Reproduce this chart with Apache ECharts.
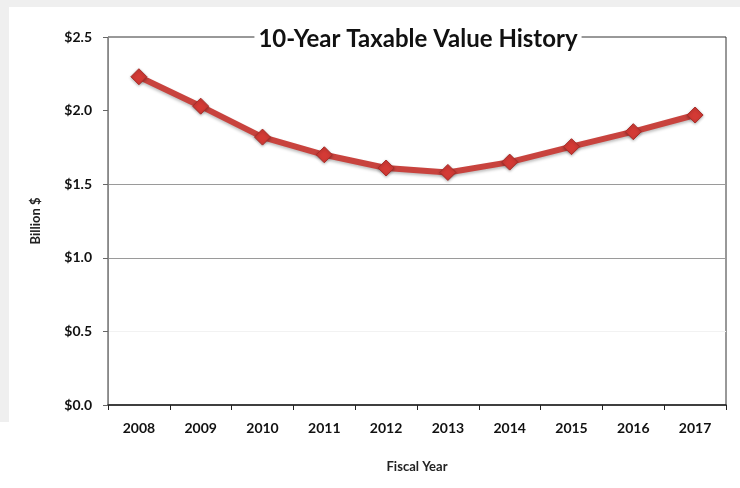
<!DOCTYPE html>
<html>
<head>
<meta charset="utf-8">
<script src="https://cdn.jsdelivr.net/npm/echarts@6/dist/echarts.min.js"></script>
<style>
  html, body { margin: 0; padding: 0; background: #ffffff; }
  #chart { width: 740px; height: 488px; }
</style>
</head>
<body>
<div id="chart"></div>
<script>
// Fiscal years and taxable value (billions of dollars)
const years = ['2008', '2009', '2010', '2011', '2012', '2013', '2014', '2015', '2016', '2017'];
const taxableValue = [2.23, 2.03, 1.82, 1.70, 1.61, 1.58, 1.65, 1.755, 1.857, 1.97];

// Value-axis ticks
const yMin = 0;
const yMax = 2.5;
const yStep = 0.5;

const labelFont = 'Lato, "Open Sans", "DejaVu Sans", sans-serif';

const chart = echarts.init(document.getElementById('chart'), null, { renderer: 'canvas' });

chart.setOption({
  backgroundColor: '#ffffff',
  animation: false,
  graphic: [
    // light frame along the top and left edges
    { type: 'rect', shape: { x: 0, y: 0, width: 740, height: 7 }, style: { fill: '#efefef' }, z: -10 },
    { type: 'rect', shape: { x: 0, y: 0, width: 9, height: 422 }, style: { fill: '#efefef' }, z: -10 }
  ],
  title: {
    text: '10-Year Taxable Value History',
    left: 414,
    textAlign: 'center',
    top: 27,
    padding: [0, 4],
    backgroundColor: '#ffffff',
    textStyle: {
      fontFamily: labelFont,
      fontWeight: 'bold',
      fontSize: 24,
      color: '#111111'
    },
    z: 10
  },
  grid: {
    left: 108,
    right: 14,
    top: 37,
    bottom: 83,
    show: true,
    borderColor: '#333333',
    borderWidth: 1,
    backgroundColor: '#ffffff'
  },
  xAxis: {
    type: 'category',
    data: years,
    boundaryGap: true,
    name: 'Fiscal Year',
    nameLocation: 'middle',
    nameGap: 55,
    nameTextStyle: {
      fontFamily: labelFont,
      fontWeight: 'bold',
      fontSize: 13,
      color: '#222222'
    },
    axisLine: { show: true, lineStyle: { color: '#222222', width: 1.5 } },
    axisTick: { show: true, length: 5, lineStyle: { color: '#222222' } },
    axisLabel: {
      margin: 16,
      fontFamily: labelFont,
      fontWeight: 'bold',
      fontSize: 14,
      color: '#111111'
    },
    splitLine: { show: false }
  },
  yAxis: {
    type: 'value',
    min: yMin,
    max: yMax,
    interval: yStep,
    name: 'Billion $',
    nameLocation: 'middle',
    nameGap: 66,
    nameRotate: 90,
    nameTextStyle: {
      fontFamily: labelFont,
      fontWeight: 'bold',
      fontSize: 13,
      color: '#222222'
    },
    axisLine: { show: true, lineStyle: { color: '#888888', width: 1 } },
    axisTick: { show: true, length: 5, lineStyle: { color: '#666666' } },
    axisLabel: {
      margin: 16,
      fontFamily: labelFont,
      fontWeight: 'bold',
      fontSize: 14,
      color: '#111111',
      formatter: v => '$' + v.toFixed(1)
    },
    splitLine: {
      show: true,
      lineStyle: {
        width: 1,
        color: ['rgba(0,0,0,0)', '#f2f2f2', '#9a9a9a', '#9a9a9a', 'rgba(0,0,0,0)', 'rgba(0,0,0,0)']
      }
    }
  },
  series: [{
    type: 'line',
    data: taxableValue,
    symbol: 'diamond',
    symbolSize: 16,
    lineStyle: {
      color: '#c8433e',
      width: 6,
      shadowColor: 'rgba(0,0,0,0.25)',
      shadowBlur: 3,
      shadowOffsetY: 2
    },
    itemStyle: {
      color: '#d33a35',
      borderColor: '#a82c28',
      borderWidth: 1,
      shadowColor: 'rgba(0,0,0,0.3)',
      shadowBlur: 3,
      shadowOffsetY: 1
    },
    z: 5
  }]
});
</script>
</body>
</html>
